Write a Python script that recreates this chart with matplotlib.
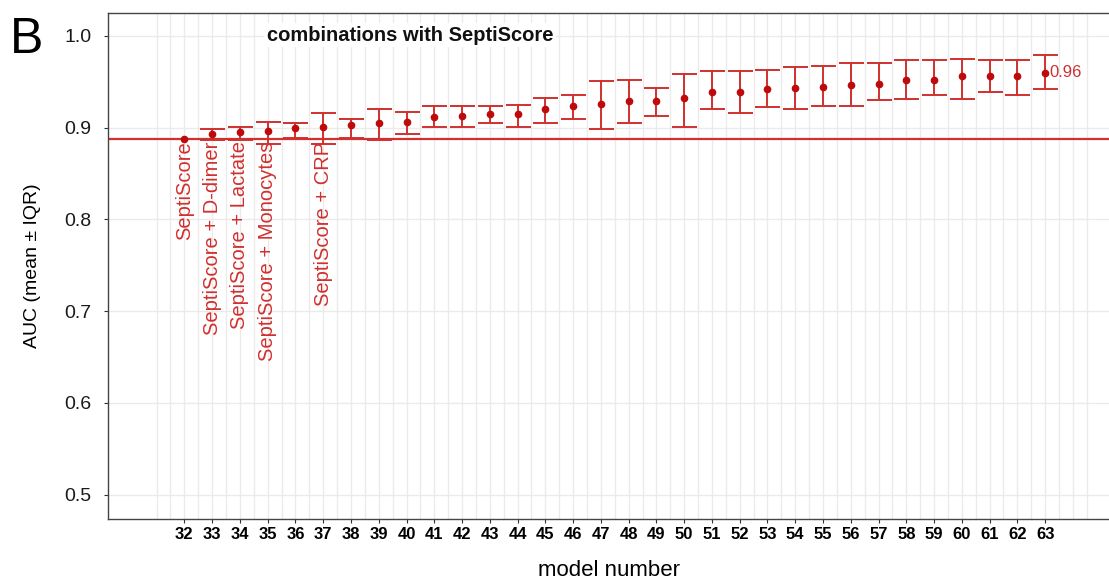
import numpy as np
import matplotlib
matplotlib.use("Agg")
import matplotlib.pyplot as plt

plt.rcParams['font.family'] = ['Liberation Sans', 'DejaVu Sans']

# ---- data ----
models = list(range(32, 64))
auc_mean = [0.888, 0.893, 0.895, 0.896, 0.900, 0.901, 0.903, 0.905, 0.906, 0.912,
            0.913, 0.915, 0.915, 0.920, 0.924, 0.926, 0.929, 0.929, 0.932, 0.939,
            0.939, 0.942, 0.943, 0.944, 0.946, 0.948, 0.952, 0.952, 0.956, 0.956,
            0.956, 0.960]
auc_upper = [0.888, 0.898, 0.901, 0.906, 0.905, 0.916, 0.909, 0.920, 0.917, 0.924,
             0.924, 0.924, 0.925, 0.932, 0.936, 0.951, 0.952, 0.943, 0.958, 0.962,
             0.962, 0.963, 0.966, 0.967, 0.970, 0.970, 0.974, 0.974, 0.975, 0.974,
             0.974, 0.979]
auc_lower = [0.888, 0.887, 0.887, 0.882, 0.889, 0.882, 0.889, 0.887, 0.893, 0.901,
             0.901, 0.905, 0.901, 0.905, 0.909, 0.898, 0.905, 0.913, 0.901, 0.920,
             0.916, 0.923, 0.920, 0.924, 0.924, 0.930, 0.931, 0.936, 0.931, 0.939,
             0.936, 0.942]
baseline_auc = 0.888
label_models = [32, 33, 34, 35, 37]
label_texts = ["SeptiScore", "SeptiScore + D-dimer", "SeptiScore + Lactate",
               "SeptiScore + Monocytes", "SeptiScore + CRP"]
best_label = "0.96"
yticks = [0.5, 0.6, 0.7, 0.8, 0.9, 1.0]

bar_color = '#D0302F'
pt_color = '#BE0A0A'

fig = plt.figure(figsize=(11.09, 5.81), dpi=100)
ax = fig.add_axes([0.0974, 0.1067, 0.9026, 0.8709])

x = np.array(models)
m = np.array(auc_mean)
err = np.vstack([m - np.array(auc_lower), np.array(auc_upper) - m])

# grid
ax.set_xlim(29.25, 65.3)
ax.set_ylim(0.4733, 1.025)
for gx in np.arange(31, 64.51, 0.5):
    ax.axvline(gx, color='#EBEBEB', lw=1.0, zorder=0)
for gy in yticks:
    ax.axhline(gy, color='#EBEBEB', lw=1.0, zorder=0)

ax.axhline(baseline_auc, color=bar_color, lw=1.6, zorder=2)

ax.errorbar(x, m, yerr=err, fmt='none', ecolor=bar_color, elinewidth=1.4,
            capsize=9, capthick=1.4, zorder=3)
ax.plot(x, m, 'o', color=pt_color, ms=4.5, zorder=4)

for mdl, txt in zip(label_models, label_texts):
    ax.text(mdl, baseline_auc - 0.003, txt, rotation=90, ha='center', va='top',
            color=bar_color, fontsize=14.5, zorder=5)

ax.text(models[-1] + 0.15, auc_mean[-1], best_label, color=bar_color,
        fontsize=12, ha='left', va='center', zorder=5)

ax.text(0.3017, 0.9565, "combinations with SeptiScore", transform=ax.transAxes,
        ha='center', va='center', fontsize=14.5, fontweight='bold', color='#111111',
        bbox=dict(facecolor='white', edgecolor='none', pad=2), zorder=6)

ax.set_xticks(models)
ax.set_xticklabels([str(v) for v in models], fontweight='bold', fontsize=12,
                   family=['Liberation Sans Narrow', 'Liberation Sans'])
ax.set_yticks(yticks)
ax.set_yticklabels([f"{v:.1f}" for v in yticks], fontsize=14, color='#1a1a1a')
ax.tick_params(axis='both', length=3, width=0.8, color='#333333')
ax.tick_params(axis='x', pad=3)
ax.tick_params(axis='y', pad=9)

for s in ['left', 'bottom', 'top']:
    ax.spines[s].set_color('#444444')
    ax.spines[s].set_linewidth(1.0)
ax.spines['right'].set_visible(False)

ax.set_xlabel("model number", fontsize=16, labelpad=13)
ax.set_ylabel("AUC (mean \u00b1 IQR)", fontsize=14, labelpad=17)

fig.text(0.009, 0.932, "B", fontsize=36, ha='left', va='center')

fig.savefig("out.png", dpi=100)
